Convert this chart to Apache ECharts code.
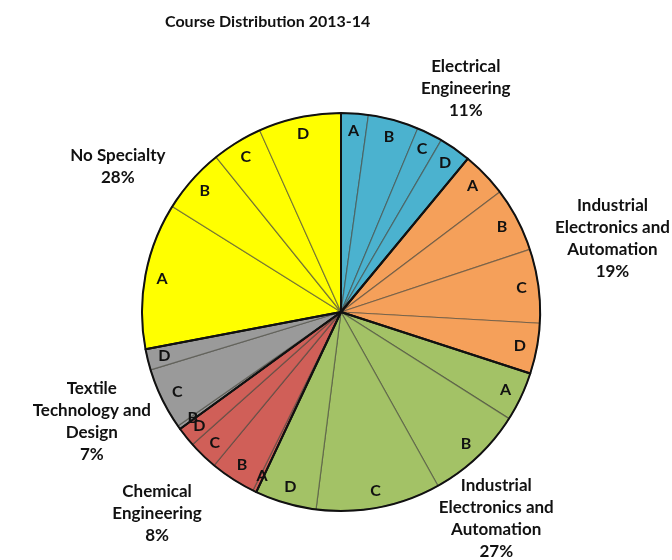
<!DOCTYPE html>
<html>
<head>
<meta charset="utf-8">
<script src="https://cdn.jsdelivr.net/npm/echarts@6/dist/echarts.min.js"></script>
<style>
  html, body { margin: 0; padding: 0; background: #fff; }
  #chart { width: 672px; height: 560px; }
</style>
</head>
<body>
<div id="chart"></div>
<script>
// groups, clockwise from 12 o'clock
const groupNames = [
  'Electrical\nEngineering',
  'Industrial\nElectronics and\nAutomation',
  'Industrial\nElectronics and\nAutomation',
  'Chemical\nEngineering',
  'Textile\nTechnology and\nDesign',
  'No Specialty'
];
const groupPct = [11, 19, 27, 8, 7, 28];

// sub courses A-D inside each group (% of total)
const subLabels = ['A', 'B', 'C', 'D'];
const subElectrical = [2.2, 4.1, 2.1, 2.6];
const subIndustrial19 = [3.7, 5.2, 6.0, 4.1];
const subIndustrial27 = [4.0, 7.9, 10.1, 5.0];
const subChemical = [0.3, 3.7, 2.4, 1.6];
const subTextile = [0, 0.3, 5.0, 1.7];
const subNoSpecialty = [11.9, 5.3, 4.1, 6.7];
const subValues = [subElectrical, subIndustrial19, subIndustrial27, subChemical, subTextile, subNoSpecialty];

const groupColors = ['#4bb2cf', '#f5a05a', '#a3c266', '#d05f58', '#9a9a9a', '#ffff00'];
// nudges for the group labels (px)
const labelShift = [[35, 26], [17, 0], [50, -37], [-15, -3], [-6, 4], [-19, 23]];

const FONT = 'Lato, "Open Sans", sans-serif';
const center = [341, 312];
const R = 199;

let subData = [];
subValues.forEach((vals, g) => {
  vals.forEach((v, i) => {
    if (v > 0) subData.push({ name: subLabels[i], value: v, itemStyle: { color: groupColors[g] } });
  });
});
let groupData = groupNames.map((n, g) => ({
  name: n,
  value: subValues[g].reduce((a, b) => a + b, 0),
  pct: groupPct[g]
}));

const chart = echarts.init(document.getElementById('chart'));
const option = {
  animation: false,
  title: {
    text: 'Course Distribution 2013-14',
    left: 160,
    top: 9,
    textStyle: { fontFamily: FONT, fontWeight: 'bold', fontSize: 16, color: '#111' }
  },
  series: [
    {
      type: 'pie', center: center, radius: [0, R], startAngle: 90,
      silent: true, emphasis: { disabled: true },
      itemStyle: { borderColor: 'rgba(70,70,60,0.6)', borderWidth: 1.2 },
      label: { show: false }, labelLine: { show: false },
      data: subData
    },
    {
      type: 'pie', center: center, radius: [R - 40, R], startAngle: 90,
      silent: true, emphasis: { disabled: true },
      itemStyle: { color: 'transparent', borderWidth: 0 },
      label: { show: true, position: 'inside', color: '#111', fontFamily: FONT, fontWeight: 'bold', fontSize: 16, formatter: '{b}' },
      labelLine: { show: false },
      labelLayout: { hideOverlap: false },
      data: subData.map(d => ({ name: d.name, value: d.value }))
    },
    {
      type: 'pie', center: center, radius: [0, R], startAngle: 90,
      silent: true, emphasis: { disabled: true },
      itemStyle: { color: 'transparent', borderColor: '#111', borderWidth: 2 },
      label: { show: false }, labelLine: { show: false },
      data: groupData.map(d => ({ name: d.name, value: d.value }))
    },
    {
      type: 'pie', center: center, radius: [R, R + 126], startAngle: 90,
      silent: true, emphasis: { disabled: true },
      itemStyle: { color: 'transparent', borderWidth: 0 },
      label: {
        show: true, position: 'inside', color: '#111', fontFamily: FONT, fontWeight: 'bold',
        fontSize: 17, lineHeight: 22, align: 'center',
        formatter: p => p.name + '\n' + p.data.pct + '%'
      },
      labelLine: { show: false },
      labelLayout: p => ({ dx: labelShift[p.dataIndex][0], dy: labelShift[p.dataIndex][1], hideOverlap: false }),
      data: groupData
    }
  ]
};
chart.setOption(option);
</script>
</body>
</html>
